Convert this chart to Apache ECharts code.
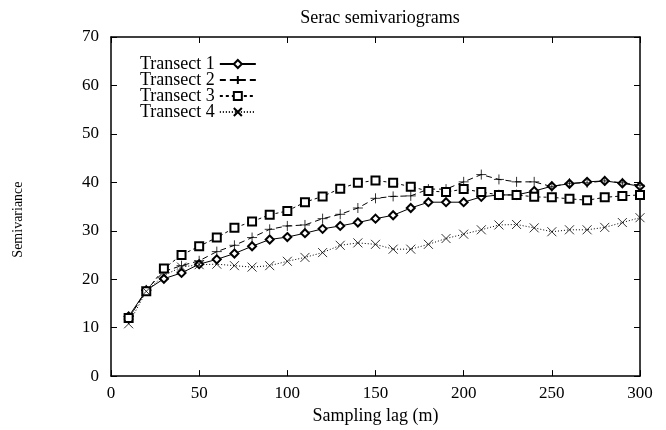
<!DOCTYPE html>
<html>
<head>
<meta charset="utf-8">
<script src="https://cdn.jsdelivr.net/npm/echarts@6/dist/echarts.min.js"></script>
<style>
  html, body { margin: 0; padding: 0; background: #fff; }
  #chart { width: 666px; height: 430px; }
</style>
</head>
<body>
<div id="chart"></div>
<script>
// sampling lags (m)
var lags = [10, 20, 30, 40, 50, 60, 70, 80, 90, 100, 110, 120, 130, 140, 150,
            160, 170, 180, 190, 200, 210, 220, 230, 240, 250, 260, 270, 280, 290, 300];

var transect1 = [12.3, 17.7, 20.1, 21.3, 23.1, 24.1, 25.3, 26.8, 28.2, 28.7, 29.5, 30.4, 31.0, 31.7, 32.5,
                 33.2, 34.7, 35.9, 35.9, 35.9, 37.0, 37.4, 37.4, 38.2, 39.2, 39.7, 40.1, 40.3, 39.8, 39.2];
var transect2 = [11.8, 17.8, 21.6, 22.8, 23.8, 25.7, 27.0, 28.6, 30.3, 31.0, 31.2, 32.5, 33.4, 34.7, 36.7,
                 37.1, 37.2, 38.6, 38.6, 40.1, 41.6, 40.6, 40.1, 40.1, 39.1, 39.8, 39.9, 40.3, 39.9, 39.4];
var transect3 = [12.0, 17.5, 22.2, 25.0, 26.8, 28.6, 30.6, 31.9, 33.3, 34.1, 35.9, 37.1, 38.7, 39.9, 40.4,
                 39.9, 39.1, 38.2, 38.0, 38.6, 38.0, 37.4, 37.4, 37.0, 36.9, 36.6, 36.3, 36.9, 37.2, 37.4];
var transect4 = [10.8, 17.5, 20.8, 22.5, 23.0, 23.1, 22.8, 22.5, 22.8, 23.7, 24.5, 25.5, 27.0, 27.5, 27.2,
                 26.2, 26.2, 27.2, 28.4, 29.3, 30.2, 31.2, 31.3, 30.6, 29.8, 30.2, 30.2, 30.7, 31.7, 32.7];

var names = ['Transect 1', 'Transect 2', 'Transect 3', 'Transect 4'];

var serif = '"Liberation Serif", "DejaVu Serif", serif';
var plusPath = 'path://M0,5L10,5M5,0L5,10';
var crossPath = 'path://M0,0L10,10M10,0L0,10';

function pairs(values) {
  return lags.map((lag, i) => [lag, values[i]]);
}

function makeSeries(name, values, symbol, size, dash) {
  return {
    name: name,
    type: 'line',
    data: pairs(values),
    symbol: symbol,
    symbolSize: size,
    showAllSymbol: true,
    animation: false,
    itemStyle: { color: '#000', borderColor: '#000', borderWidth: 0.8 },
    lineStyle: { color: '#000', width: 1, type: dash }
  };
}

var axisCommon = {
  min: 0,
  axisLine: { show: true, onZero: false, lineStyle: { color: '#000', width: 1.5 } },
  axisTick: { show: true, inside: true, length: 6, lineStyle: { color: '#000', width: 1 } },
  splitLine: { show: false }
};

const myChart = echarts.init(document.getElementById('chart'));

let option = {
  backgroundColor: '#fff',
  title: {
    text: 'Serac semivariograms',
    left: 375,
    textAlign: 'center',
    top: 4,
    textStyle: { fontFamily: serif, fontSize: 18, fontWeight: 'normal', color: '#000' }
  },
  grid: { left: 111, right: 26, top: 37, bottom: 45 },
  legend: {
    orient: 'vertical',
    left: 135,
    top: 50,
    align: 'right',
    itemGap: -2,
    itemWidth: 36,
    itemHeight: 10,
    data: names,
    textStyle: { fontFamily: serif, fontSize: 18, lineHeight: 16, color: '#000' }
  },
  xAxis: [
    Object.assign({}, axisCommon, {
      type: 'value', max: 300, interval: 50, position: 'bottom',
      name: 'Sampling lag (m)', nameLocation: 'middle', nameGap: 24,
      nameTextStyle: { fontFamily: serif, fontSize: 18, color: '#000' },
      axisLabel: { fontFamily: serif, fontSize: 17, color: '#000', margin: 9 }
    }),
    Object.assign({}, axisCommon, {
      type: 'value', max: 300, interval: 50, position: 'top',
      axisLabel: { show: false }
    })
  ],
  yAxis: [
    Object.assign({}, axisCommon, {
      type: 'value', max: 70, interval: 10, position: 'left',
      name: 'Semivariance', nameLocation: 'middle', nameGap: 86,
      nameTextStyle: { fontFamily: serif, fontSize: 14, color: '#000', padding: [0, 26, 0, 0] },
      axisLabel: { fontFamily: serif, fontSize: 17, color: '#000', margin: 12 }
    }),
    Object.assign({}, axisCommon, {
      type: 'value', max: 70, interval: 10, position: 'right',
      axisLabel: { show: false }
    })
  ],
  series: [
    makeSeries(names[0], transect1, 'emptyDiamond', 8, 'solid'),
    makeSeries(names[1], transect2, plusPath, 10, [6, 4]),
    makeSeries(names[2], transect3, 'emptyRect', 8, [3, 3]),
    makeSeries(names[3], transect4, crossPath, 9, [1, 2])
  ]
};

myChart.setOption(option);
</script>
</body>
</html>
